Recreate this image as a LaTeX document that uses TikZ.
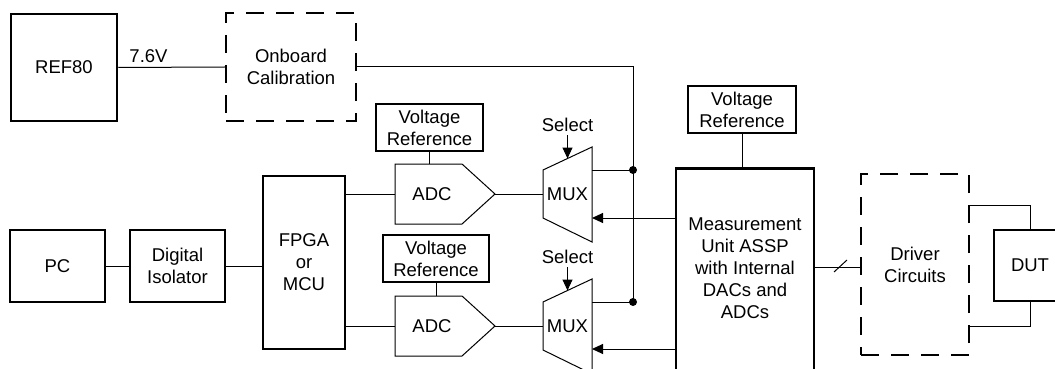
\documentclass[tikz,border=0pt]{standalone}
\usepackage{fontspec}
\setmainfont{Liberation Sans}
\usetikzlibrary{arrows.meta}
\begin{document}
\begin{tikzpicture}[x=1pt,y=-1pt,
  txt/.style={font=\fontsize{18.5}{22}\selectfont},
  box/.style={draw, line width=2.5pt, align=center, inner sep=0pt, txt},
  dbox/.style={box, dash pattern=on 18pt off 12pt},
  lbl/.style={inner sep=0pt, align=center, txt},
  wire/.style={line width=1pt},
  shp/.style={line width=1pt, line join=miter},
  arr/.style={wire, -{Triangle[length=11pt,width=10pt]}},
  dot/.style={circle, fill, inner sep=0pt, minimum size=8pt}]
\useasboundingbox (0,0) rectangle (1055,369);
\clip (0,0) rectangle (1055,369);

% boxes
\node[box, minimum width=106pt, minimum height=107pt] (ref) at (64,67.5) {REF80};
\node[dbox, minimum width=130pt, minimum height=108pt] (cal) at (291,67) {Onboard\\Calibration};
\node[box, minimum width=95pt, minimum height=72pt] (pc) at (57.5,266) {PC};
\node[box, minimum width=95pt, minimum height=72pt] (iso) at (177.5,266) {Digital\\Isolator};
\node[box, minimum width=82pt, minimum height=173pt] (fpga) at (304,262.5) {FPGA\\or\\MCU};
\node[box, minimum width=107pt, minimum height=47pt] (vr1) at (429.5,127.5) {Voltage\\Reference};
\node[box, minimum width=106pt, minimum height=47pt] (vr2) at (436,258.5) {Voltage\\Reference};
\node[box, minimum width=108pt, minimum height=47pt] (vr3) at (742,109.5) {Voltage\\Reference};
\node[box, minimum width=138pt, minimum height=240pt, anchor=north] (meas) at (745,167.2) {};
\node[lbl] (meastext) at (745,268) {Measurement\\Unit ASSP\\with Internal\\DACs and\\ADCs};
\node[dbox, minimum width=108pt, minimum height=181pt] (drv) at (915,264.5) {Driver\\Circuits};
\node[box, minimum width=72pt, minimum height=71pt] (dut) at (1030,265.5) {DUT};

% ADCs
\draw[shp] (395,164) -- (462,164) -- (495,194) -- (462,224) -- (395,224) -- cycle;
\node[lbl] (adc1) at (432,194.5) {ADC};
\coordinate (adc1in) at (395,194);
\coordinate (adc1out) at (495,194);
\coordinate (adc1top) at (429.5,164);
\draw[shp] (395,296) -- (462,296) -- (495,326) -- (462,356) -- (395,356) -- cycle;
\node[lbl] (adc2) at (432,326.5) {ADC};
\coordinate (adc2in) at (395,326);
\coordinate (adc2out) at (495,326);
\coordinate (adc2top) at (436,296);

% MUXes
\draw[shp] (543,170) -- (592,147) -- (592,242) -- (543,218) -- cycle;
\node[lbl] (mux1) at (567.5,194) {MUX};
\coordinate (mux1in) at (543,194);
\coordinate (mux1out) at (592,170);
\coordinate (mux1ret) at (592,218);
\coordinate (mux1sel) at (567.5,158.5);
\draw[shp] (543,302) -- (592,279) -- (592,374) -- (543,350) -- cycle;
\node[lbl] (mux2) at (567.5,326) {MUX};
\coordinate (mux2in) at (543,326);
\coordinate (mux2out) at (592,302);
\coordinate (mux2ret) at (592,349);
\coordinate (mux2sel) at (567.5,290.5);

% labels
\node[lbl] (v76) at (148.5,56) {7.6V};
\node[lbl] (sel1) at (567.5,124.5) {Select};
\node[lbl] (sel2) at (567.5,256.5) {Select};
\coordinate (sel1s) at (567.5,135);
\coordinate (sel2s) at (567.5,267);

% dots
\node[dot] (d1) at (633,170) {};
\node[dot] (d2) at (633,302) {};

% connectors
\draw[wire] (ref.east) -- (cal.west);
\draw[wire] (cal.east) -- (cal.east -| d1) -- (d2.center);
\draw[wire] (mux1out) -- (d1.center);
\draw[wire] (mux2out) -- (d2.center);
\draw[arr] (meas.west |- mux1ret) -- (mux1ret);
\draw[arr] (meas.west |- mux2ret) -- (mux2ret);
\draw[arr] (sel1s) -- (mux1sel);
\draw[arr] (sel2s) -- (mux2sel);
\draw[wire] (adc1out) -- (mux1in);
\draw[wire] (adc2out) -- (mux2in);
\draw[wire] (vr1.south) -- (adc1top);
\draw[wire] (vr2.south) -- (adc2top);
\draw[wire] (vr3.south) -- (vr3.south |- meas.north);
\draw[wire] (pc.east) -- (iso.west);
\draw[wire] (iso.east) -- (iso.east -| fpga.west);
\draw[wire] (fpga.east |- adc1in) -- (adc1in);
\draw[wire] (fpga.east |- adc2in) -- (adc2in);
\coordinate (md) at (815,267);
\draw[wire] (meas.east |- md) -- (drv.west |- md);
\draw[wire] (834,272) -- (847,260);
\coordinate (t1) at (1030,205);
\coordinate (t2) at (1030,326);
\draw[wire] (drv.east |- t1) -- (t1) -- (dut.north);
\draw[wire] (dut.south) -- (t2) -- (drv.east |- t2);
\end{tikzpicture}
\end{document}
